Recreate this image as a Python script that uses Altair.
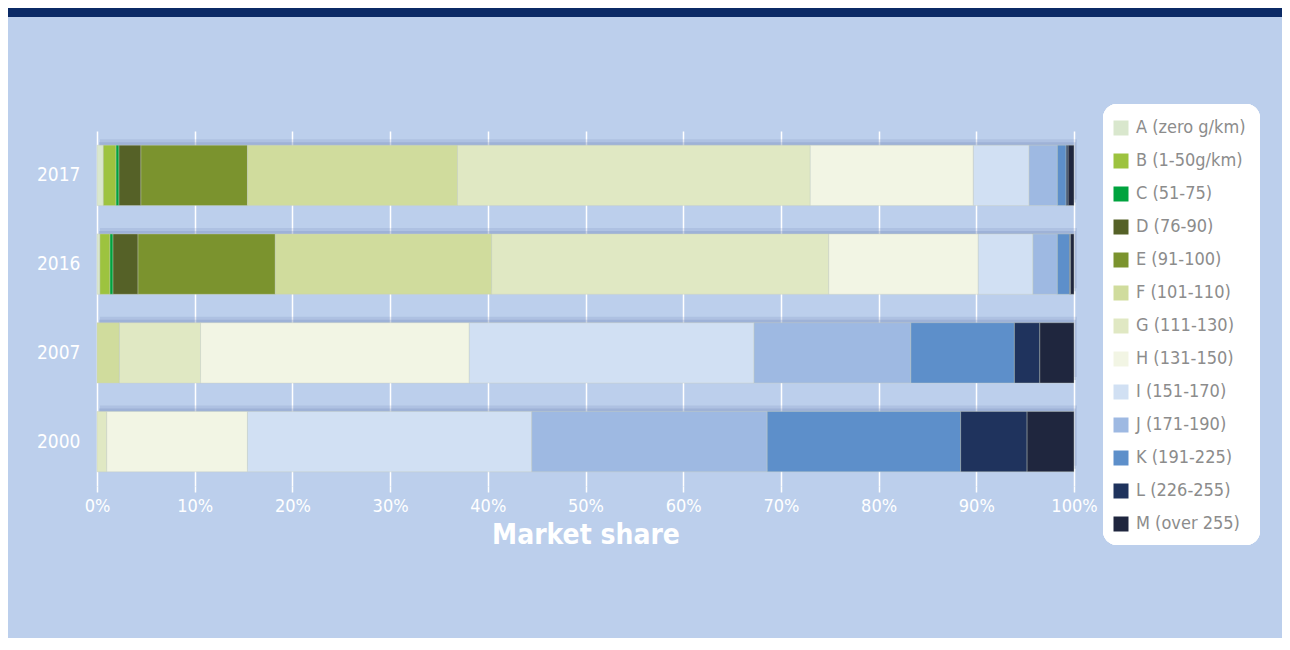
import altair as alt
import pandas as pd

years = ["2017", "2016", "2007", "2000"]
letters = ["A", "B", "C", "D", "E", "F", "G", "H", "I", "J", "K", "L", "M"]
labels = ["A (zero g/km)", "B (1-50g/km)", "C (51-75)", "D (76-90)", "E (91-100)",
          "F (101-110)", "G (111-130)", "H (131-150)", "I (151-170)", "J (171-190)",
          "K (191-225)", "L (226-255)", "M (over 255)"]
colors = ["#d9e7cd", "#9dc33f", "#00a33e", "#556127", "#7b932e", "#d0dc9d", "#e0e8c3",
          "#f2f5e4", "#d1e0f3", "#9eb9e2", "#5d8fca", "#1f335d", "#1f263e"]

share_2017 = [0.65, 1.3, 0.3, 2.25, 10.9, 21.5, 36.1, 16.7, 5.7, 2.9, 0.9, 0.2, 0.6]
share_2016 = [0.3, 1.03, 0.31, 2.56, 14.05, 22.15, 34.5, 15.3, 5.6, 2.5, 1.25, 0.1, 0.35]
share_2007 = [0, 0, 0, 0, 0, 2.3, 8.3, 27.5, 29.15, 16.05, 10.6, 2.6, 3.5]
share_2000 = [0, 0, 0, 0, 0, 0, 1.0, 14.4, 29.1, 24.1, 19.8, 6.8, 4.8]

rows = []
for yr, vals in zip(years, [share_2017, share_2016, share_2007, share_2000]):
    for i, (lab, v) in enumerate(zip(labels, vals)):
        if v > 0:
            rows.append({"year": yr, "band": lab, "order": i, "share": v})
df = pd.DataFrame(rows)
totals = df.groupby("year", as_index=False)["share"].sum()

FONT = "DejaVu Sans Condensed, DejaVu Sans"

yenc = alt.Y("year:N", sort=years, title=None,
             scale=alt.Scale(paddingInner=0.32, paddingOuter=0.16),
             axis=alt.Axis(domain=False, ticks=False, labelColor="white", labelFontSize=19,
                           labelFont=FONT, labelPadding=17, grid=False))

xscale = alt.Scale(domain=[0, 100], nice=False)
xaxis = alt.Axis(values=list(range(0, 101, 10)), labelExpr="datum.value + '%'",
                 domain=False, grid=True, gridColor="white", gridWidth=1.5,
                 tickColor="white", tickSize=6, tickWidth=1.5, labelFlush=False,
                 labelColor="white", labelFontSize=18, labelFont=FONT, labelPadding=5,
                 title="Market share", titleColor="white", titleFontSize=28,
                 titleFont=FONT, titleFontWeight="bold", titlePadding=6)

band = alt.Chart(totals).mark_rule(color="#0b2a66", strokeWidth=9).encode(
    x=alt.value(-89), x2=alt.value(1185), y=alt.value(-118.5))

legend_box = alt.Chart(totals).mark_rect(color="white", cornerRadius=14).encode(
    x=alt.value(1006), x2=alt.value(1163), y=alt.value(-27), y2=alt.value(414))

shadow1 = alt.Chart(totals).mark_bar(color="#6f86b6", opacity=0.18, yOffset=-6, xOffset=3).encode(
    x=alt.X("share:Q", scale=xscale, axis=xaxis),
    y=yenc,
)
shadow2 = alt.Chart(totals).mark_bar(color="#6f86b6", opacity=0.25, yOffset=-3, xOffset=2).encode(
    x=alt.X("share:Q", scale=xscale, axis=xaxis),
    y=yenc,
)

bars = alt.Chart(df).mark_bar(stroke="#c9d2c0", strokeWidth=0.4).encode(
    x=alt.X("share:Q", stack="zero", scale=xscale, axis=xaxis),
    y=yenc,
    color=alt.Color("band:N", scale=alt.Scale(domain=labels, range=colors),
                    legend=alt.Legend(orient="none", legendX=1015, legendY=-12, title=None,
                                      symbolType="square", symbolSize=225, symbolStrokeWidth=0,
                                      labelFontSize=18, labelFont=FONT, labelColor="#8c8c8c",
                                      labelOffset=6, rowPadding=15, padding=0)),
    order=alt.Order("order:Q"),
)

chart = alt.layer(band, legend_box, shadow1, shadow2, bars).properties(
    width=977, height=355,
    autosize=alt.AutoSizeParams(type="none"),
    padding={"left": 89, "top": 123, "right": 208, "bottom": 152},
    background="#bccfec",
).configure_view(stroke=None)

chart.save("out.html", embed_options={"renderer": "svg", "actions": False})
